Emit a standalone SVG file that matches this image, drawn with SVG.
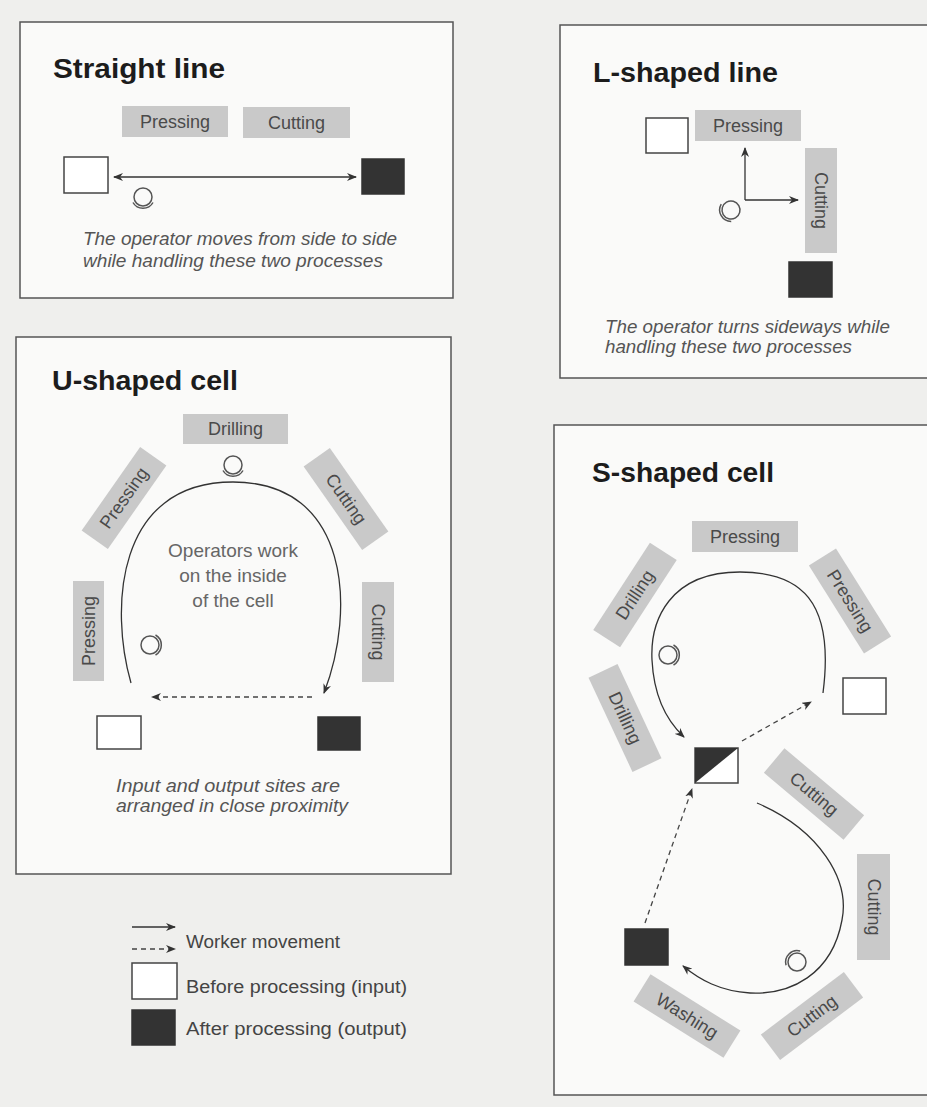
<svg xmlns="http://www.w3.org/2000/svg" xmlns:xlink="http://www.w3.org/1999/xlink" width="927" height="1107" viewBox="0 0 927 1107">
<style>
.panel{fill:#fafaf9;stroke:#555;stroke-width:1.5}
.title{font-family:"Liberation Sans",Arial,sans-serif;font-weight:bold;font-size:28px;fill:#1c1c1c}
.lbl{fill:#c9c9c9}
.lt{font-family:"Liberation Sans",Arial,sans-serif;font-size:18px;fill:#4a4a4a;text-anchor:middle;dominant-baseline:central}
.cap{font-family:"Liberation Sans",Arial,sans-serif;font-style:italic;font-size:18px;fill:#555}
.mid{font-family:"Liberation Sans",Arial,sans-serif;font-size:19px;fill:#666;text-anchor:middle}
.leg{font-family:"Liberation Sans",Arial,sans-serif;font-size:18px;fill:#444}
.in{fill:#fff;stroke:#444;stroke-width:1.5}
.out{fill:#333;stroke:#333;stroke-width:1.5}
.conn{fill:none;stroke:#333;stroke-width:1.3}
.dash{fill:none;stroke:#444;stroke-width:1.3;stroke-dasharray:5,4}
.op{fill:none;stroke:#555;stroke-width:1.5}
</style>
<defs>
<marker id="ah" viewBox="0 0 10 8" refX="9" refY="4" markerWidth="10" markerHeight="8" markerUnits="userSpaceOnUse" orient="auto-start-reverse">
<path d="M0,0 L10,4 L0,8 L3,4 z" fill="#333"/>
</marker>
<g id="opShape">
<circle class="op" cx="0" cy="0" r="9"/>
<path class="op" d="M-10,5.5 A11.5,11.5 0 0 0 10,5.5"/>
</g>
</defs>
<rect x="0" y="0" width="927" height="1107" fill="#efefed"/>

<!-- Panels -->
<g id="panel-straight">
<rect class="panel" x="20" y="22" width="433" height="276"/>
<text class="title" x="53" y="78" textLength="172" lengthAdjust="spacingAndGlyphs">Straight line</text>
<text class="cap"><tspan x="83" y="245" textLength="314" lengthAdjust="spacingAndGlyphs">The operator moves from side to side</tspan><tspan x="83" y="267" textLength="300" lengthAdjust="spacingAndGlyphs">while handling these two processes</tspan></text>
</g>
<g id="panel-lshaped">
<rect class="panel" x="560" y="25" width="380" height="353"/>
<text class="title" x="593" y="82" textLength="185" lengthAdjust="spacingAndGlyphs">L-shaped line</text>
<text class="cap"><tspan x="605" y="333" textLength="285" lengthAdjust="spacingAndGlyphs">The operator turns sideways while</tspan><tspan x="605" y="353" textLength="247" lengthAdjust="spacingAndGlyphs">handling these two processes</tspan></text>
</g>
<g id="panel-ushaped">
<rect class="panel" x="16" y="337" width="435" height="537"/>
<text class="title" x="52" y="390" textLength="186" lengthAdjust="spacingAndGlyphs">U-shaped cell</text>
<text class="mid"><tspan x="233" y="557">Operators work</tspan><tspan x="233" y="582">on the inside</tspan><tspan x="233" y="607">of the cell</tspan></text>
<text class="cap"><tspan x="116" y="792" textLength="224" lengthAdjust="spacingAndGlyphs">Input and output sites are</tspan><tspan x="116" y="812" textLength="232" lengthAdjust="spacingAndGlyphs">arranged in close proximity</tspan></text>
</g>
<g id="panel-sshaped">
<rect class="panel" x="554" y="425" width="390" height="670"/>
<text class="title" x="592" y="482" textLength="182" lengthAdjust="spacingAndGlyphs">S-shaped cell</text>
</g>

<!-- Connectors -->
<g id="connectors">
<line class="conn" x1="114" y1="177" x2="356" y2="177" marker-start="url(#ah)" marker-end="url(#ah)"/>
<path class="conn" d="M745,200 L745,148" marker-end="url(#ah)"/>
<path class="conn" d="M745,200 L798,200" marker-end="url(#ah)"/>
<path class="conn" d="M131,683 C110,610 115,482 233,482 C350,482 356,610 324,693" marker-end="url(#ah)"/>
<path class="dash" d="M312,697 L152,697" marker-end="url(#ah)"/>
<path class="conn" d="M823,693 C835,600 800,572 740,572 C670,572 650,620 652,660 C654,700 668,722 684,737" marker-end="url(#ah)"/>
<path class="dash" d="M742,741 L811,702" marker-end="url(#ah)"/>
<path class="conn" d="M757,803 C820,830 850,880 842,920 C832,975 790,995 750,993 C720,991 700,980 683,966" marker-end="url(#ah)"/>
<path class="dash" d="M645,923 L692,789" marker-end="url(#ah)"/>
<path class="conn" d="M132,927 L175,927" marker-end="url(#ah)"/>
<path class="dash" d="M132,949 L175,949" marker-end="url(#ah)"/>
</g>

<!-- Straight line nodes -->
<g id="sl-pressing"><rect class="lbl" x="122" y="106" width="106" height="31"/><text class="lt" x="175" y="121.5">Pressing</text></g>
<g id="sl-cutting"><rect class="lbl" x="243" y="107" width="107" height="31"/><text class="lt" x="296.5" y="122.5">Cutting</text></g>
<g id="sl-input"><rect class="in" x="64" y="157" width="44" height="36"/></g>
<g id="sl-output"><rect class="out" x="362" y="159" width="42" height="35"/></g>
<g id="sl-operator"><use xlink:href="#opShape" href="#opShape" transform="translate(143,197)"/></g>

<!-- L-shaped nodes -->
<g id="l-input"><rect class="in" x="646" y="118" width="42" height="35"/></g>
<g id="l-pressing"><rect class="lbl" x="695" y="110" width="106" height="31"/><text class="lt" x="748" y="125.5">Pressing</text></g>
<g id="l-cutting"><rect class="lbl" x="805" y="148" width="32" height="105"/><text class="lt" transform="translate(821,200.5) rotate(90)">Cutting</text></g>
<g id="l-output"><rect class="out" x="789" y="262" width="43" height="35"/></g>
<g id="l-operator"><use xlink:href="#opShape" href="#opShape" transform="translate(731,210) rotate(60)"/></g>

<!-- U-shaped nodes -->
<g id="u-drilling"><rect class="lbl" x="183" y="414" width="105" height="30"/><text class="lt" x="235.5" y="429">Drilling</text></g>
<g id="u-pressing1"><g transform="translate(124,498) rotate(-55)"><rect class="lbl" x="-51" y="-16" width="102" height="32"/><text class="lt" x="0" y="0">Pressing</text></g></g>
<g id="u-cutting1"><g transform="translate(346,499) rotate(55)"><rect class="lbl" x="-51" y="-16" width="102" height="32"/><text class="lt" x="0" y="0">Cutting</text></g></g>
<g id="u-pressing2"><rect class="lbl" x="73" y="581" width="31" height="100"/><text class="lt" transform="translate(88.5,631) rotate(-90)">Pressing</text></g>
<g id="u-cutting2"><rect class="lbl" x="362" y="582" width="32" height="100"/><text class="lt" transform="translate(378,632) rotate(90)">Cutting</text></g>
<g id="u-input"><rect class="in" x="97" y="716" width="44" height="33"/></g>
<g id="u-output"><rect class="out" x="318" y="717" width="42" height="33"/></g>
<g id="u-operator1"><use xlink:href="#opShape" href="#opShape" transform="translate(233,465)"/></g>
<g id="u-operator2"><use xlink:href="#opShape" href="#opShape" transform="translate(150,645) rotate(-90)"/></g>

<!-- S-shaped nodes -->
<g id="s-pressing1"><rect class="lbl" x="692" y="521" width="106" height="31"/><text class="lt" x="745" y="536.5">Pressing</text></g>
<g id="s-drilling1"><g transform="translate(635,595) rotate(-57)"><rect class="lbl" x="-52" y="-16" width="104" height="32"/><text class="lt" x="0" y="0">Drilling</text></g></g>
<g id="s-pressing2"><g transform="translate(850,601) rotate(58)"><rect class="lbl" x="-52" y="-16" width="104" height="32"/><text class="lt" x="0" y="0">Pressing</text></g></g>
<g id="s-drilling2"><g transform="translate(625,718) rotate(65)"><rect class="lbl" x="-52" y="-16" width="104" height="32"/><text class="lt" x="0" y="0">Drilling</text></g></g>
<g id="s-input"><rect class="in" x="843" y="678" width="43" height="36"/></g>
<g id="s-split"><rect class="in" x="695" y="748" width="43" height="35"/><polygon points="695,748 738,748 695,783" fill="#333"/></g>
<g id="s-cutting1"><g transform="translate(814,794) rotate(40)"><rect class="lbl" x="-52" y="-16" width="104" height="32"/><text class="lt" x="0" y="0">Cutting</text></g></g>
<g id="s-cutting2"><rect class="lbl" x="857" y="854" width="33" height="106"/><text class="lt" transform="translate(873.5,907) rotate(90)">Cutting</text></g>
<g id="s-cutting3"><g transform="translate(812,1016) rotate(-37)"><rect class="lbl" x="-52" y="-16" width="104" height="32"/><text class="lt" x="0" y="0">Cutting</text></g></g>
<g id="s-washing"><g transform="translate(687,1016) rotate(32)"><rect class="lbl" x="-53" y="-16" width="106" height="32"/><text class="lt" x="0" y="0">Washing</text></g></g>
<g id="s-output"><rect class="out" x="625" y="929" width="43" height="36"/></g>
<g id="s-operator1"><use xlink:href="#opShape" href="#opShape" transform="translate(668,655) rotate(-90)"/></g>
<g id="s-operator2"><use xlink:href="#opShape" href="#opShape" transform="translate(797,962) rotate(135)"/></g>

<!-- Legend -->
<g id="legend">
<text class="leg" x="186" y="948" textLength="154" lengthAdjust="spacingAndGlyphs">Worker movement</text>
<rect class="in" x="132" y="963" width="45" height="36"/>
<text class="leg" x="186" y="993" textLength="221" lengthAdjust="spacingAndGlyphs">Before processing (input)</text>
<rect class="out" x="132" y="1010" width="43" height="35"/>
<text class="leg" x="186" y="1035" textLength="221" lengthAdjust="spacingAndGlyphs">After processing (output)</text>
</g>
</svg>
